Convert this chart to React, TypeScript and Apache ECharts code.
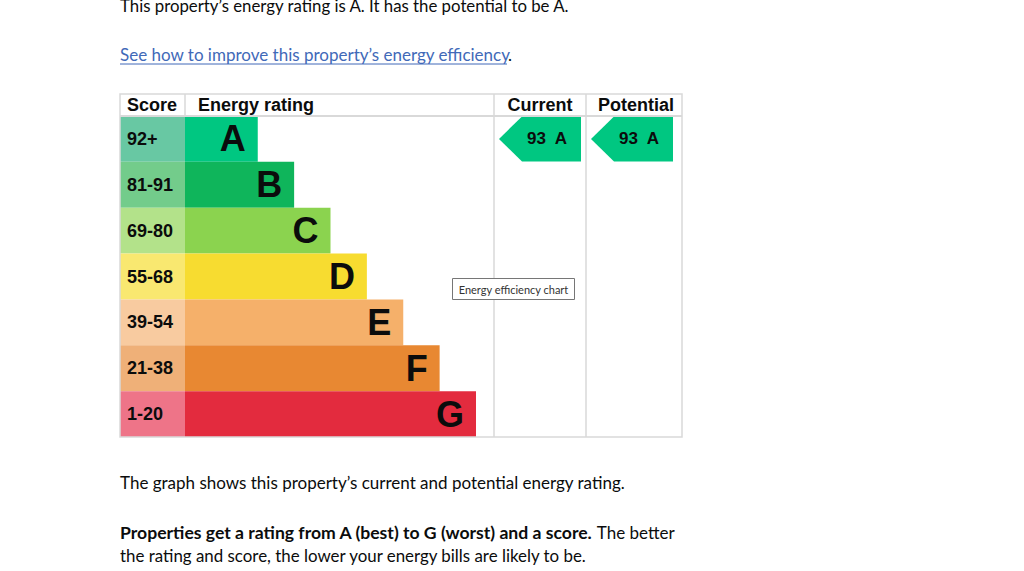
import React, { useEffect, useRef } from 'react';
import * as echarts from 'echarts';

const ratings = ['A', 'B', 'C', 'D', 'E', 'F', 'G'];
const scoreBands = ['92+', '81-91', '69-80', '55-68', '39-54', '21-38', '1-20'];
const bandMinimums = [92, 81, 69, 55, 39, 21, 1];
const barLengths = [2, 3, 4, 5, 6, 7, 8];
const barColors = ['#00c781', '#0fb55b', '#8bd34f', '#f7dc30', '#f5b06a', '#e88832', '#e32b3e'];
const scoreColors = ['#68c8a3', '#73cc8b', '#b3e28a', '#f9e870', '#f8cba0', '#efb078', '#ee7488'];
const columns = ['Current', 'Potential'];
const currentScore = 93;
const potentialScore = 93;

const ratingOf = (s: number) => {
  for (let i = 0; i < bandMinimums.length; i++) if (s >= bandMinimums[i]) return ratings[i];
  return ratings[ratings.length - 1];
};

const BODY_FONT = 'Lato';
const TEXT = '#0b0c0c';
const LINE = '#d9d9d9';

export default function App() {
  const ref = useRef<HTMLDivElement>(null);
  useEffect(() => {
    if (!ref.current) return;
    const chart = echarts.init(ref.current, undefined, { renderer: 'svg' });
    const top = 116;
    const height = 321;
    const option: any = {
      animation: false,
      backgroundColor: '#ffffff',
      grid: [
        { left: 120, top, width: 65, height },
        { left: 185, top, width: 291, height },
        { left: 494, top, width: 184, height },
      ],
      xAxis: [
        { gridIndex: 0, type: 'value', min: 0, max: 1, show: false },
        { gridIndex: 1, type: 'value', min: 0, max: 8, show: false },
        { gridIndex: 2, type: 'category', data: columns, show: false },
      ],
      yAxis: [
        { gridIndex: 0, type: 'category', data: ratings, inverse: true, show: false },
        { gridIndex: 1, type: 'category', data: ratings, inverse: true, show: false },
        { gridIndex: 2, type: 'category', data: ratings, inverse: true, show: false },
      ],
      series: [
        {
          type: 'bar',
          xAxisIndex: 0,
          yAxisIndex: 0,
          barCategoryGap: '0%',
          data: scoreBands.map((b, i) => ({ value: 1, name: b, itemStyle: { color: scoreColors[i] } })),
          label: {
            show: true,
            position: 'insideLeft',
            distance: 7,
            formatter: (p: any) => scoreBands[p.dataIndex],
            fontFamily: 'Liberation Sans',
            fontWeight: 'bold',
            fontSize: 18,
            color: TEXT,
          },
        },
        {
          type: 'bar',
          xAxisIndex: 1,
          yAxisIndex: 1,
          barCategoryGap: '0%',
          data: barLengths.map((v, i) => ({ value: v, itemStyle: { color: barColors[i] } })),
          label: {
            show: true,
            position: 'insideRight',
            distance: 12,
            formatter: (p: any) => ratings[p.dataIndex],
            fontFamily: 'Liberation Sans',
            fontWeight: 'bold',
            fontSize: 36,
            color: TEXT,
          },
        },
        {
          type: 'scatter',
          xAxisIndex: 2,
          yAxisIndex: 2,
          symbol: 'path://M0,22.5 L23,0 L82,0 L82,45 L23,45 Z',
          symbolSize: [82, 45],
          itemStyle: { color: barColors[0], opacity: 1 },
          data: [
            [columns[0], ratingOf(currentScore), currentScore],
            [columns[1], ratingOf(potentialScore), potentialScore],
          ],
          label: {
            show: true,
            position: 'inside',
            offset: [7, 0],
            formatter: (p: any) => `${p.value[2]}  ${p.value[1]}`,
            fontFamily: 'Liberation Sans',
            fontWeight: 'bold',
            fontSize: 17,
            color: TEXT,
          },
        },
      ],
      graphic: [
        // table lines
        { type: 'rect', shape: { x: 120, y: 94, width: 562, height: 343 }, style: { fill: 'none', stroke: LINE, lineWidth: 1.5 }, z: 10 },
        { type: 'line', shape: { x1: 120, y1: 116, x2: 682, y2: 116 }, style: { stroke: LINE, lineWidth: 2 }, z: 10 },
        { type: 'line', shape: { x1: 185, y1: 94, x2: 185, y2: 116 }, style: { stroke: LINE, lineWidth: 1.5 }, z: 10 },
        { type: 'line', shape: { x1: 494, y1: 94, x2: 494, y2: 437 }, style: { stroke: LINE, lineWidth: 1.5 }, z: 10 },
        { type: 'line', shape: { x1: 586, y1: 94, x2: 586, y2: 437 }, style: { stroke: LINE, lineWidth: 1.5 }, z: 10 },
        // headers
        { type: 'text', x: 127, y: 105, style: { text: 'Score', font: 'bold 18px "Liberation Sans"', fill: TEXT, verticalAlign: 'middle' } },
        { type: 'text', x: 198, y: 105, style: { text: 'Energy rating', font: 'bold 18px "Liberation Sans"', fill: TEXT, verticalAlign: 'middle' } },
        { type: 'text', x: 540, y: 105, style: { text: 'Current', font: 'bold 18px "Liberation Sans"', fill: TEXT, align: 'center', verticalAlign: 'middle' } },
        { type: 'text', x: 636, y: 105, style: { text: 'Potential', font: 'bold 18px "Liberation Sans"', fill: TEXT, align: 'center', verticalAlign: 'middle' } },
        // page text
        { type: 'text', x: 120, y: 5, style: { text: 'This property\u2019s energy rating is A. It has the potential to be A.', font: `16.8px "${BODY_FONT}"`, fill: TEXT, verticalAlign: 'middle' } },
        { type: 'text', x: 120, y: 54, style: { text: 'See how to improve this property\u2019s energy efficiency', font: `17px "${BODY_FONT}"`, fill: '#4169b8', verticalAlign: 'middle' } },
        { type: 'line', shape: { x1: 120, y1: 64, x2: 507, y2: 64 }, style: { stroke: '#4169b8', lineWidth: 1 } },
        { type: 'text', x: 508, y: 54, style: { text: '.', font: `17px "${BODY_FONT}"`, fill: TEXT, verticalAlign: 'middle' } },
        { type: 'text', x: 120, y: 482, style: { text: 'The graph shows this property\u2019s current and potential energy rating.', font: `17px "${BODY_FONT}"`, fill: TEXT, verticalAlign: 'middle' } },
        {
          type: 'text', x: 120, y: 532,
          style: {
            text: '{b|Properties get a rating from A (best) to G (worst) and a score.}{r| The better}',
            font: `17px "${BODY_FONT}"`, fill: TEXT, verticalAlign: 'middle',
            rich: {
              b: { fontWeight: 'bold', fontFamily: BODY_FONT, fontSize: 17.6, fill: TEXT },
              r: { fontFamily: BODY_FONT, fontSize: 17, fill: TEXT },
            },
          },
        },
        { type: 'text', x: 120, y: 555, style: { text: 'the rating and score, the lower your energy bills are likely to be.', font: `16.9px "${BODY_FONT}"`, fill: TEXT, verticalAlign: 'middle' } },
        // tooltip
        { type: 'rect', shape: { x: 452.5, y: 278.5, width: 122, height: 21 }, style: { fill: '#ffffff', stroke: '#767676', lineWidth: 1 }, z: 20 },
        { type: 'text', x: 513.5, y: 289, z: 21, style: { text: 'Energy efficiency chart', font: '11px "Lato"', fill: '#333333', align: 'center', verticalAlign: 'middle' } },
      ],
    };
    chart.setOption(option);
    return () => chart.dispose();
  }, []);
  return <div ref={ref} style={{ position: 'fixed', left: 0, top: 0, width: 1024, height: 571 }} />;
}
